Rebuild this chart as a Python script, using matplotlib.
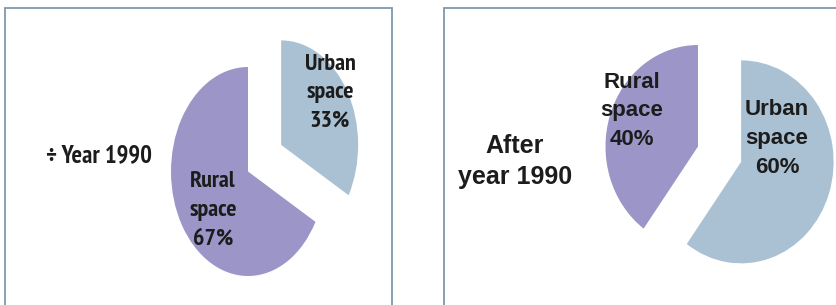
import matplotlib
matplotlib.use("Agg")
import matplotlib.pyplot as plt
from matplotlib.patches import Rectangle
from matplotlib import font_manager as fm
from matplotlib.textpath import TextPath

# ---- data ----
categories = ["Urban space", "Rural space"]
values_before = [33, 67]
values_after = [60, 40]
title_before = "÷ Year 1990"
title_after = "After\nyear 1990"

colors = {"Urban space": "#AAC1D4", "Rural space": "#9C96C8"}
TEXT = "#1c1c1c"

W, H = 837, 305
DPI = 100
fig = plt.figure(figsize=(W / DPI, H / DPI), dpi=DPI)
fig.patch.set_facecolor("white")


def weight_num(w):
    if isinstance(w, (int, float)):
        return w
    return 700 if "bold" in str(w) else 400


def font_metrics(fp):
    cap = TextPath((0, 0), "H", size=100, prop=fp).get_extents().height
    wid = TextPath((0, 0), "Urban", size=100, prop=fp).get_extents().width
    return cap, wid


def pick_narrow():
    best = None
    seen = set()
    for f in fm.fontManager.ttflist:
        nm = f.name
        if f.fname in seen:
            continue
        seen.add(f.fname)
        if any(k in nm for k in ("Mono", "CJK", "Serif", "Math")):
            continue
        if not any(k in nm for k in ("Sans", "Roboto", "Lato", "Inter")):
            continue
        if f.style != "normal" or weight_num(f.weight) < 600:
            continue
        try:
            cap, wid = font_metrics(fm.FontProperties(fname=f.fname))
        except Exception:
            continue
        if cap <= 0:
            continue
        ratio = wid / cap
        if best is None or ratio < best[0]:
            best = (ratio, f.fname)
    return best


best = pick_narrow()
if best:
    NFP = fm.FontProperties(fname=best[1])
else:
    NFP = fm.FontProperties(family=["Liberation Sans"], weight="bold")
RFP = fm.FontProperties(family=["Liberation Sans", "DejaVu Sans"], weight="bold")


def px_rect(x0, y0, x1, y1, **kw):
    return Rectangle((x0 / W, 1 - y1 / H), (x1 - x0) / W, (y1 - y0) / H,
                     transform=fig.transFigure, fill=False, **kw)


fig.patches.append(px_rect(5, 8, 392, 320, ec="#7F97AD", lw=1.3))
fig.patches.append(px_rect(444, 8, 850, 320, ec="#7F97AD", lw=1.3))


def make_axes(cx, cy, rx, ry, L=1.6):
    w = 2 * L * rx
    h = 2 * L * ry
    return fig.add_axes([(cx - w / 2) / W, (H - cy - h / 2) / H, w / W, h / H])


def draw_pie(ax, values, startangle, explode, L=1.6):
    cols = [colors[c] for c in categories]
    ax.pie(values, colors=cols, startangle=startangle, counterclock=False,
           explode=explode, wedgeprops=dict(linewidth=0))
    ax.set_aspect("auto")
    ax.set_xlim(-L, L)
    ax.set_ylim(-L, L)
    ax.axis("off")


def label(c, v):
    return "{}\n{}\n{}%".format(*c.split(" "), v)


def size_for(fp, cap_px, word, width_px, wcap=0.7):
    cap = TextPath((0, 0), "H", size=100, prop=fp).get_extents().height
    wid = TextPath((0, 0), word, size=100, prop=fp).get_extents().width
    s_cap = cap_px / (cap / 100.0)
    s_wid = width_px / (wid / 100.0)
    s_px = (s_cap ** wcap) * (s_wid ** (1 - wcap))
    return s_px * 72.0 / DPI


def ptext(target, x, y, s, base_fp, size, spacing_px):
    fp = base_fp.copy()
    fp.set_size(size)
    size_px = size * DPI / 72.0
    ext = TextPath((0, 0), "lp", size=size_px, prop=fp).get_extents()
    h = ext.height
    d = max(-ext.y0, 0)
    ls = (spacing_px - d) / max(h - d, 1e-6)
    return target.text(x, y, s, ha="center", va="center", color=TEXT,
                       fontproperties=fp, linespacing=ls)


# ---- left pie (before 1990) ----
axL = make_axes(248, 171.5, 77, 104.5)
draw_pie(axL, values_before, 90, [0.5, 0])
sz_lab = size_for(NFP, 16.5, "Urban", 52)
ptext(axL, 1.065, 0.755, label(categories[0], values_before[0]), NFP, sz_lab, 29.5)
ptext(axL, -0.455, -0.37, label(categories[1], values_before[1]), NFP, sz_lab, 30)
sz_title = size_for(NFP, 17, "Year 1990", 94)
ptext(fig, 99.5 / W, 1 - 156 / H, title_before, NFP, sz_title, 30)

# ---- right pie (after 1990) ----
axR = make_axes(698, 146.5, 92.5, 101.5)
draw_pie(axR, values_after, 90, [0.49, 0])
ptext(axR, 0.854, 0.08, label(categories[0], values_after[0]), RFP, 16, 28.5)
ptext(axR, -0.72, 0.35, label(categories[1], values_after[1]), RFP, 16, 28)
ptext(fig, 515 / W, 1 - 161.5 / H, title_after, RFP, 18, 30)

fig.savefig("out.png", dpi=DPI)
